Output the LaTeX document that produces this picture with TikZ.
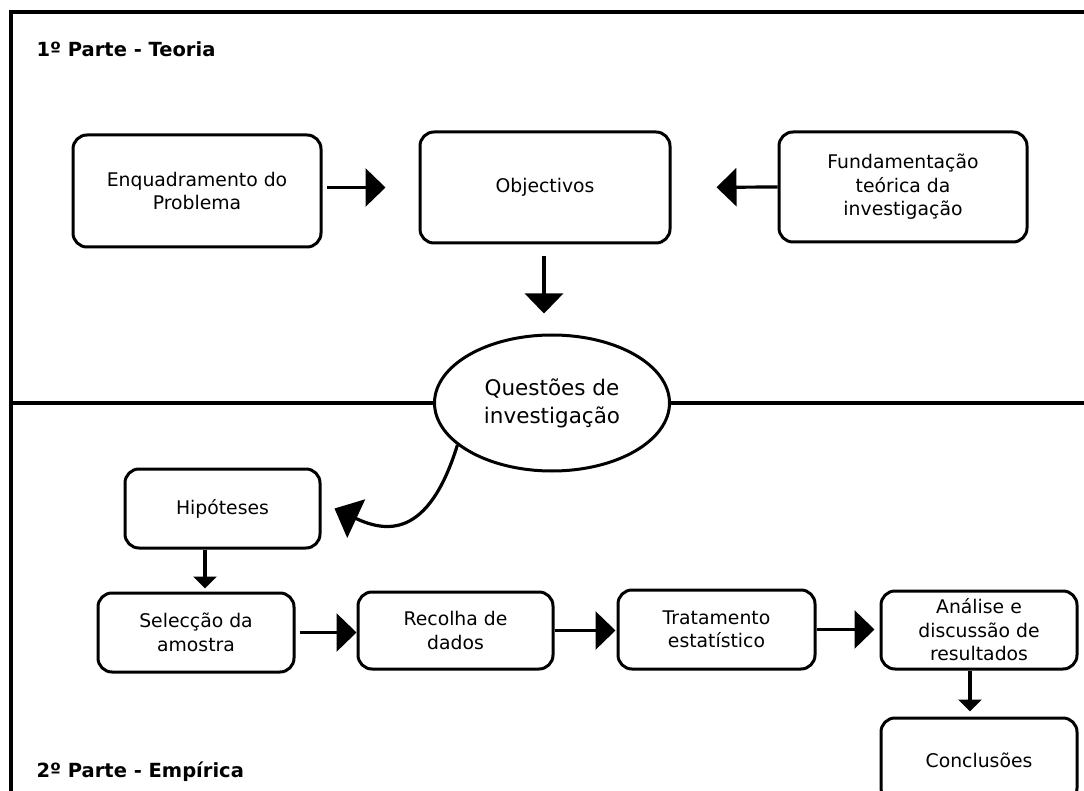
\documentclass[tikz,border=0pt]{standalone}
\usepackage{fontspec}
\setmainfont{DejaVu Sans}
\usetikzlibrary{arrows.meta,shapes.geometric}
\begin{document}
\begin{tikzpicture}[x=1pt,y=-1pt,
 box/.style={draw,line width=3pt,rounded corners=14pt,align=center,font=\fontsize{18.8}{23.5}\selectfont,inner sep=0pt},
 conn/.style={line width=3.2pt},
 bigarrow/.style={conn,-{Triangle[length=20pt,width=38pt]}},
 smallarrow/.style={conn,-{Triangle[length=12pt,width=23pt]}},
 title/.style={anchor=base west,font=\fontsize{19.5}{24}\selectfont\bfseries}]
\useasboundingbox (0,0) rectangle (1084,791);
\clip (0,0) rectangle (1084,791);

% nodes
\node[box,minimum width=248pt,minimum height=112pt] (enq) at (197,191) {Enquadramento do\\Problema};
\node[box,minimum width=250pt,minimum height=111pt] (obj) at (545,187.5) {Objectivos};
\node[box,minimum width=248pt,minimum height=110pt] (fund) at (903,187) {Fundamentação\\teórica da\\investigação};
\node[draw,ellipse,line width=3pt,minimum width=235pt,minimum height=136pt,inner sep=0pt,align=center,font=\fontsize{21.5}{28}\selectfont] (q) at (552,403) {Questões de\\investigação};
\node[box,minimum width=195pt,minimum height=79pt] (hip) at (222.5,508.5) {Hipóteses};
\node[box,minimum width=196pt,minimum height=79pt] (sel) at (196,632.5) {Selecção da\\amostra};
\node[box,minimum width=195pt,minimum height=77pt] (rec) at (455.5,630.5) {Recolha de\\dados};
\node[box,minimum width=197pt,minimum height=79pt] (trat) at (716.5,629.5) {Tratamento\\estatístico};
\node[box,minimum width=196pt,minimum height=78pt] (ana) at (979,630) {Análise e\\discussão de\\resultados};
\node[box,minimum width=196pt,minimum height=84pt] (conc) at (979,760) {Conclusões};

\node[title] (t1) at (33,57) {1º Parte - Teoria};
\node[title] (t2) at (33,777) {2º Parte - Empírica};

% frame and divider
\draw[line width=3.8pt] (11,800) -- (11,12) -- (1090,12);
\draw[conn] (11,403) -- (q.west);
\draw[conn] (q.east) -- (1090,403);

% connectors
\draw[bigarrow,shorten <=4pt,shorten >=33pt] (enq.east |- obj.west) -- (obj.west);
\draw[bigarrow,shorten >=45pt] (fund.west) -- (obj.east);
\draw[bigarrow,shorten <=12pt,shorten >=20pt] ([xshift=-1pt]obj.south) -- ([xshift=-1pt]obj.south |- q.north);
\draw[conn,-{Triangle[length=24pt,width=42pt]}] (q.204) .. controls (428,540) and (385,532) .. ([xshift=13pt]hip.east);
\draw[smallarrow,shorten >=3pt] ([xshift=-17.5pt]hip.south) -- ([xshift=-17.5pt]hip.south |- sel.north);
\draw[bigarrow,shorten <=4pt] (sel.east) -- (sel.east -| rec.west);
\draw[bigarrow,shorten >=1pt] (rec.east) -- (rec.east -| trat.west);
\draw[bigarrow,shorten >=5pt] (trat.east) -- (trat.east -| ana.west);
\draw[smallarrow,shorten >=5pt] ([xshift=-9pt]ana.south) -- ([xshift=-9pt]ana.south |- conc.north);
\end{tikzpicture}
\end{document}
